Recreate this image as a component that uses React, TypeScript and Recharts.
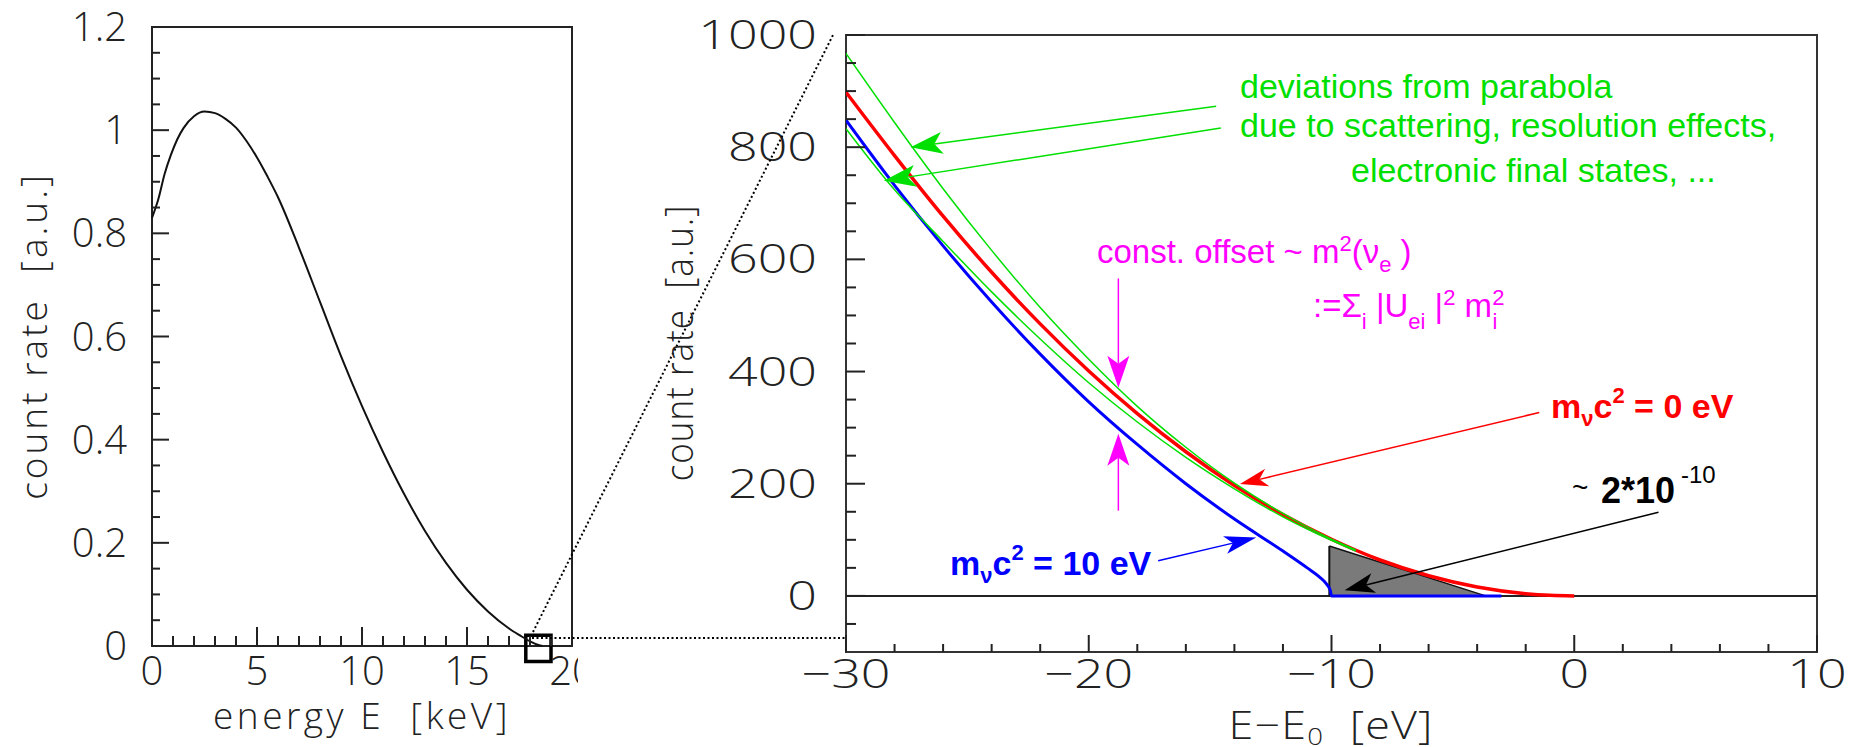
import React from "react";
import {
  LineChart,
  ComposedChart,
  Line,
  Area,
  XAxis,
  YAxis,
  ReferenceArea,
  ReferenceLine,
} from "recharts";

// left panel: full tritium spectrum
const SPECTRUM_E = [0, 0.3, 0.6, 0.9, 1.2, 1.5, 2, 2.5, 3, 3.5, 4, 4.5, 5, 5.5, 6, 7, 8, 9, 10, 11, 12, 13, 14, 15, 16, 17, 17.5, 18, 18.4, 18.6];
const SPECTRUM_RATE = [0.83, 0.866, 0.915, 0.952, 0.982, 1.004, 1.027, 1.036, 1.033, 1.022, 1.005, 0.979, 0.947, 0.91, 0.87, 0.772, 0.667, 0.562, 0.465, 0.376, 0.295, 0.223, 0.161, 0.109, 0.067, 0.034, 0.021, 0.009, 0.002, 0];
const LEFT_X_TICKS = [0, 1, 2, 3, 4, 5, 6, 7, 8, 9, 10, 11, 12, 13, 14, 15, 16, 17, 18, 19, 20];
const LEFT_X_MAJOR = [0, 5, 10, 15, 20];
const LEFT_Y_TICKS = [0, 0.05, 0.1, 0.15, 0.2, 0.25, 0.3, 0.35, 0.4, 0.45, 0.5, 0.55, 0.6, 0.65, 0.7, 0.75, 0.8, 0.85, 0.9, 0.95, 1, 1.05, 1.1, 1.15, 1.2];
const LEFT_Y_MAJOR = [0, 0.2, 0.4, 0.6, 0.8, 1, 1.2];
const ZOOM_BOX_E = [17.8, 19.0];
const ZOOM_BOX_RATE = [-0.03, 0.021];

// right panel: endpoint region
const RED_E = [-30, -28, -26, -24, -22, -20, -18, -16, -14, -12, -10, -8, -6, -4, -2, -1, 0];
const RED_RATE = [898, 785, 677, 577, 485, 401, 325, 257, 197, 145, 101, 64, 36, 16, 4, 1, 0];
const BLUE_E = [-30, -28, -26, -24, -22, -20, -18, -16, -14, -12, -11, -10.5, -10.2, -10.05, -10, -3];
const BLUE_RATE = [848, 732, 624, 524, 431, 346, 270, 200, 137, 80, 50, 34, 21, 10, 0, 0];
const GREEN_E = [-30, -28, -26, -24, -22, -20, -18, -16, -14, -12, -10, -9];
const GREEN_UP_RATE = [967, 844, 726, 616, 514, 422, 338, 265, 201, 147, 101, 82];
const GREEN_LOW_RATE = [833, 724, 632, 542, 458, 380, 310, 247, 191, 141, 99, 80];
const TRIANGLE_E = [-10.09, -3.65];
const TRIANGLE_RATE = [89, 0];
const RIGHT_X_TICKS = [-30, -28, -26, -24, -22, -20, -18, -16, -14, -12, -10, -8, -6, -4, -2, 0, 2, 4, 6, 8, 10];
const RIGHT_X_MAJOR = [-30, -20, -10, 0, 10];
const RIGHT_Y_TICKS = [-50, 0, 50, 100, 150, 200, 250, 300, 350, 400, 450, 500, 550, 600, 650, 700, 750, 800, 850, 900, 950, 1000];
const RIGHT_Y_MAJOR = [0, 200, 400, 600, 800, 1000];

const GREEN = "#00e000";
const MAGENTA = "#ff00ff";
const RED = "#ff0000";
const BLUE = "#0000ff";
const AXIS = "#222";
const SP = "\u00a0\u00a0";

// annotation arrows, [E, rate] of tail and tip
const ARROWS = [
  { from: [-14.75, 873], to: [-27.34, 800], color: GREEN, w: 1.5, head: 32, half: 11 },
  { from: [-14.56, 834], to: [-28.44, 740], color: GREEN, w: 1.5, head: 32, half: 11 },
  { from: [-18.78, 566], to: [-18.78, 371], color: MAGENTA, w: 1.5, head: 32, half: 11 },
  { from: [-18.78, 152], to: [-18.78, 289], color: MAGENTA, w: 1.5, head: 32, half: 11 },
  { from: [-1.44, 327], to: [-13.77, 199.5], color: RED, w: 1.5, head: 28, half: 9 },
  { from: [-17.14, 62.5], to: [-13.1, 104], color: BLUE, w: 1.5, head: 32, half: 9 },
  { from: [3.47, 149], to: [-9.46, 10], color: "#000", w: 1.5, head: 30, half: 10 },
];

const TICK_FONT = "'Open Sans', 'DejaVu Sans', sans-serif";
const NOTE_FONT = "'Liberation Sans', Arial, sans-serif";
const BOLD_FONT = "'Liberation Sans Narrow', 'Liberation Sans', Arial, sans-serif";

const spectrum = SPECTRUM_E.map((e, i) => ({ e, rate: SPECTRUM_RATE[i] }));
const toRows = (xs: number[], ys: number[]) => xs.map((x, i) => ({ x, y: ys[i] }));
const redRows = toRows(RED_E, RED_RATE);
const blueRows = toRows(BLUE_E, BLUE_RATE);
const greenUpRows = toRows(GREEN_E, GREEN_UP_RATE);
const greenLowRows = toRows(GREEN_E, GREEN_LOW_RATE);
const triangleRows = toRows(TRIANGLE_E, TRIANGLE_RATE);

const isIn = (arr: number[], v: number) => arr.some((m) => Math.abs(m - v) < 1e-9);
const fmtMinus = (v: number) => (v < 0 ? "\u2212" + Math.abs(v) : String(v));

function LeftYTick(p: any) {
  const v = p.payload.value;
  const major = isIn(LEFT_Y_MAJOR, v);
  return (
    <g>
      <line x1={p.x} x2={p.x + (major ? 17 : 8)} y1={p.y} y2={p.y} stroke={AXIS} strokeWidth={2} />
      {major && (
        <text x={p.x - 25} y={p.y + 14} textAnchor="end" fontFamily={TICK_FONT} fontWeight={300} fontSize={40} fill={AXIS}>
          {String(v)}
        </text>
      )}
    </g>
  );
}

function LeftXTick(p: any) {
  const v = p.payload.value;
  const major = isIn(LEFT_X_MAJOR, v);
  return (
    <g>
      <line x1={p.x} x2={p.x} y1={p.y} y2={p.y - (major ? 19 : 10)} stroke={AXIS} strokeWidth={2} />
      {major && (
        <text x={p.x} y={p.y + 39} textAnchor="middle" fontFamily={TICK_FONT} fontWeight={300} fontSize={40} fill={AXIS}>
          {String(v)}
        </text>
      )}
    </g>
  );
}

function RightYTick(p: any) {
  const v = p.payload.value;
  const major = isIn(RIGHT_Y_MAJOR, v);
  return (
    <g>
      <line x1={p.x} x2={p.x + (major ? 19 : 10)} y1={p.y} y2={p.y} stroke={AXIS} strokeWidth={2} />
      {major && (
        <text transform={`translate(${p.x - 29},${p.y + 14}) scale(1.3,1)`} textAnchor="end" fontFamily={TICK_FONT} fontWeight={300} fontSize={40} fill={AXIS}>
          {String(v)}
        </text>
      )}
    </g>
  );
}

function RightXTick(p: any) {
  const v = p.payload.value;
  const major = isIn(RIGHT_X_MAJOR, v);
  return (
    <g>
      <line x1={p.x} x2={p.x} y1={p.y} y2={p.y - (major ? 17 : 8)} stroke={AXIS} strokeWidth={2} />
      {major && (
        <text transform={`translate(${p.x},${p.y + 36}) scale(1.3,1)`} textAnchor="middle" fontFamily={TICK_FONT} fontWeight={300} fontSize={40} fill={AXIS}>
          {fmtMinus(v)}
        </text>
      )}
    </g>
  );
}

function arrowShape(color: string, w: number, head: number, half: number) {
  return (p: any) => {
    const { x1, y1, x2, y2 } = p;
    const dx = x2 - x1;
    const dy = y2 - y1;
    const len = Math.hypot(dx, dy) || 1;
    const ux = dx / len;
    const uy = dy / len;
    const bx = x2 - ux * head;
    const by = y2 - uy * head;
    const nx = bx + ux * 8;
    const ny = by + uy * 8;
    const px = -uy * half;
    const py = ux * half;
    return (
      <g>
        <line x1={x1} y1={y1} x2={nx} y2={ny} stroke={color} strokeWidth={w} />
        <polygon points={`${x2},${y2} ${bx + px},${by + py} ${nx},${ny} ${bx - px},${by - py}`} fill={color} />
      </g>
    );
  };
}

function Overlay() {
  return (
    <svg width={1856} height={747} style={{ position: "absolute", left: 0, top: 0, pointerEvents: "none" }}>
      {/* zoom connectors */}
      <line x1={533} y1={632} x2={834} y2={33} stroke="#000" strokeWidth={2} strokeDasharray="2 2.5" />
      <line x1={532} y1={638} x2={845} y2={638} stroke="#000" strokeWidth={2} strokeDasharray="2 2.5" />

      {/* axis titles */}
      <g fontFamily={TICK_FONT} fontWeight={300} fill={AXIS}>
        <text x={362} y={729} textAnchor="middle" fontSize={37} letterSpacing={3.5}>
          {`energy E${SP}[keV]`}
        </text>
        <text transform="translate(47,336) rotate(-90)" textAnchor="middle" fontSize={37} letterSpacing={3}>
          {`count rate${SP}[a.u.]`}
        </text>
        <text transform="translate(693,343) rotate(-90) scale(1,1.1)" textAnchor="middle" fontSize={35} letterSpacing={1}>
          {`count rate${SP}[a.u.]`}
        </text>
        <text transform="translate(1331,739) scale(1.15,1)" textAnchor="middle" fontSize={39} letterSpacing={1}>
          E{"\u2212"}E<tspan fontSize={24} dy={6}>0</tspan>
          <tspan dy={-6}>{`${SP}[eV]`}</tspan>
        </text>
      </g>

      {/* green note */}
      <g fontFamily={NOTE_FONT} fontSize={34} fill={GREEN}>
        <text x={1240} y={98}>deviations from parabola</text>
        <text x={1240} y={137}>due to scattering, resolution effects,</text>
        <text x={1351} y={182}>electronic final states, ...</text>
      </g>

      {/* magenta note */}
      <g fontFamily={NOTE_FONT} fill={MAGENTA}>
        <text x={1097} y={263} fontSize={33}>
          const. offset ~ m
          <tspan fontSize={22} dy={-12}>2</tspan>
          <tspan dy={12}>({"\u03bd"}</tspan>
          <tspan fontSize={22} dy={9}>e</tspan>
          <tspan dy={-9}> )</tspan>
        </text>
        <text x={1313} y={317} fontSize={33}>
          :={"\u03a3"}
          <tspan fontSize={22} dy={12}>i</tspan>
          <tspan dy={-12}> |U</tspan>
          <tspan fontSize={22} dy={12}>ei</tspan>
          <tspan dy={-12}> |</tspan>
          <tspan fontSize={22} dy={-12}>2</tspan>
          <tspan dy={12}> m</tspan>
          <tspan fontSize={22} dy={-12}>2</tspan>
          <tspan fontSize={22} dx={-12} dy={24}>i</tspan>
        </text>
      </g>

      {/* mass labels */}
      <text x={1551} y={418} fontFamily={BOLD_FONT} fontWeight="bold" fontSize={34} fill={RED}>
        m<tspan fontSize={22} dy={8}>{"\u03bd"}</tspan>
        <tspan dy={-8}>c</tspan>
        <tspan fontSize={22} dy={-15}>2</tspan>
        <tspan dy={15}> = 0 eV</tspan>
      </text>
      <text x={950} y={575} fontFamily={BOLD_FONT} fontWeight="bold" fontSize={34} fill={BLUE}>
        m<tspan fontSize={22} dy={8}>{"\u03bd"}</tspan>
        <tspan dy={-8}>c</tspan>
        <tspan fontSize={22} dy={-15}>2</tspan>
        <tspan dy={15}> = 10 eV</tspan>
      </text>

      {/* fraction label */}
      <text x={1572} y={497} fontFamily={NOTE_FONT} fontSize={28} fill="#000">~</text>
      <text x={1601} y={503} fontFamily={BOLD_FONT} fontWeight="bold" fontSize={36} fill="#000">2*10</text>
      <text x={1681} y={483} fontFamily={NOTE_FONT} fontSize={24} fill="#000">-10</text>
    </svg>
  );
}

export default function App() {
  return (
    <div style={{ position: "absolute", left: 0, top: 0, width: 1856, height: 747, background: "#fff", overflow: "hidden" }}>
      <div style={{ position: "absolute", left: 0, top: 0 }}>
        <LineChart width={600} height={747} data={spectrum} margin={{ top: 27, right: 28, bottom: 0, left: 0 }}>
          <XAxis dataKey="e" type="number" domain={[0, 20]} ticks={LEFT_X_TICKS} interval={0} height={101} tickSize={0} tickMargin={0} axisLine={false} tickLine={false} tick={<LeftXTick />} />
          <YAxis type="number" domain={[0, 1.2]} ticks={LEFT_Y_TICKS} interval={0} width={152} tickSize={0} tickMargin={0} axisLine={false} tickLine={false} tick={<LeftYTick />} />
          <ReferenceArea x1={0} x2={20} y1={0} y2={1.2} fill="none" stroke={AXIS} strokeWidth={2} />
          <Line dataKey="rate" type="monotone" stroke="#111" strokeWidth={2} dot={false} activeDot={false} isAnimationActive={false} />
          <ReferenceArea x1={ZOOM_BOX_E[0]} x2={ZOOM_BOX_E[1]} y1={ZOOM_BOX_RATE[0]} y2={ZOOM_BOX_RATE[1]} fill="none" fillOpacity={0} stroke="#000" strokeWidth={3.5} ifOverflow="visible" />
        </LineChart>
      </div>

      <div style={{ position: "absolute", left: 578, top: 0, width: 1278, height: 747, background: "#fff" }}>
        <ComposedChart width={1278} height={747} margin={{ top: 35, right: 39, bottom: 0, left: 0 }}>
          <XAxis dataKey="x" type="number" domain={[-30, 10]} ticks={RIGHT_X_TICKS} interval={0} height={95} tickSize={0} tickMargin={0} axisLine={false} tickLine={false} tick={<RightXTick />} allowDataOverflow />
          <YAxis type="number" domain={[-100, 1000]} ticks={RIGHT_Y_TICKS} interval={0} width={268} tickSize={0} tickMargin={0} axisLine={false} tickLine={false} tick={<RightYTick />} allowDataOverflow />
          <ReferenceArea x1={-30} x2={10} y1={-100} y2={1000} fill="none" stroke="#333" strokeWidth={2} />
          <ReferenceLine y={0} stroke={AXIS} strokeWidth={2} />
          <Area data={triangleRows} dataKey="y" type="linear" baseValue={0} fill="#7a7a7a" fillOpacity={1} stroke="#111" strokeWidth={1.5} dot={false} activeDot={false} isAnimationActive={false} />
          <ReferenceLine segment={[{ x: TRIANGLE_E[0], y: 0 }, { x: TRIANGLE_E[0], y: TRIANGLE_RATE[0] }]} stroke="#111" strokeWidth={2} />
          <Line data={blueRows} dataKey="y" type="monotone" stroke={BLUE} strokeWidth={3} dot={false} activeDot={false} isAnimationActive={false} />
          <Line data={redRows} dataKey="y" type="monotone" stroke={RED} strokeWidth={3.5} dot={false} activeDot={false} isAnimationActive={false} />
          <Line data={greenUpRows} dataKey="y" type="monotone" stroke={GREEN} strokeWidth={1.5} dot={false} activeDot={false} isAnimationActive={false} />
          <Line data={greenLowRows} dataKey="y" type="monotone" stroke={GREEN} strokeWidth={1.5} dot={false} activeDot={false} isAnimationActive={false} />
          {ARROWS.map((a, i) => (
            <ReferenceLine
              key={i}
              segment={[{ x: a.from[0], y: a.from[1] }, { x: a.to[0], y: a.to[1] }]}
              shape={arrowShape(a.color, a.w, a.head, a.half)}
              ifOverflow="visible"
            />
          ))}
        </ComposedChart>
      </div>

      <Overlay />
    </div>
  );
}
